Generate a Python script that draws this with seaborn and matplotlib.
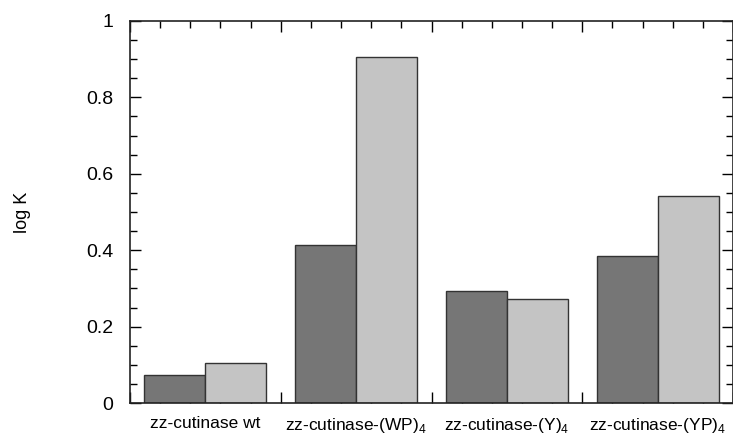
import pandas as pd
import seaborn as sns
import matplotlib.pyplot as plt
from matplotlib.ticker import MultipleLocator, FixedLocator, FormatStrFormatter

# data
proteins = ["zz-cutinase wt", "zz-cutinase-(WP)$_4$",
            "zz-cutinase-(Y)$_4$", "zz-cutinase-(YP)$_4$"]
series_a = [0.073, 0.413, 0.292, 0.386]
series_b = [0.105, 0.905, 0.272, 0.543]

df = pd.DataFrame({
    "protein": proteins * 2,
    "logK": series_a + series_b,
    "series": ["a"] * 4 + ["b"] * 4,
})

sns.set_style("ticks")
plt.rcParams["font.family"] = ["Liberation Sans", "DejaVu Sans"]
plt.rcParams["mathtext.fontset"] = "custom"
plt.rcParams["mathtext.rm"] = "Liberation Sans"
plt.rcParams["text.color"] = "black"
plt.rcParams["xtick.color"] = "black"
plt.rcParams["ytick.color"] = "black"
plt.rcParams["axes.labelcolor"] = "black"

fig = plt.figure(figsize=(7.33, 4.4), dpi=100)
ax = fig.add_axes([130 / 733, 37 / 440, 603 / 733, 382 / 440])

sns.barplot(data=df, x="protein", y="logK", hue="series",
            palette=["#767676", "#c4c4c4"], width=0.81, gap=0,
            edgecolor="#333333", linewidth=1.0, legend=False, ax=ax)

ax.set_xlim(-0.5, 3.5)
ax.set_ylim(0, 1)

# y ticks, inward both sides
ax.yaxis.set_major_locator(MultipleLocator(0.2))
ax.yaxis.set_minor_locator(MultipleLocator(0.05))
ax.yaxis.set_major_formatter(FormatStrFormatter("%g"))
ax.tick_params(axis="y", which="both", direction="in", left=True, right=True,
               labelsize=14, pad=12)
ax.tick_params(axis="y", which="major", length=8, width=1)
ax.tick_params(axis="y", which="minor", length=5, width=1)

# x ticks: group boundaries as major, fifths as minor, labels on secondary axis
ax.xaxis.set_major_locator(FixedLocator([-0.5, 0.5, 1.5, 2.5, 3.5]))
ax.xaxis.set_minor_locator(FixedLocator(
    [g + f for g in range(4) for f in (-0.3, -0.1, 0.1, 0.3)]))
ax.set_xticklabels([])
ax.tick_params(axis="x", which="both", direction="in", top=True, bottom=True)
ax.tick_params(axis="x", which="major", length=8, width=1)
ax.tick_params(axis="x", which="minor", length=5, width=1)
ax.set_xlabel("")

sec = ax.secondary_xaxis("bottom")
sec.set_xticks(range(4))
sec.set_xticklabels(proteins)
sec.tick_params(length=0, labelsize=12.5, pad=9)
sec.spines["bottom"].set_visible(False)

ax.set_ylabel("log K", fontsize=13, labelpad=40)

for s in ax.spines.values():
    s.set_linewidth(1.2)
    s.set_color("#222222")

fig.savefig("out.png", dpi=100)
